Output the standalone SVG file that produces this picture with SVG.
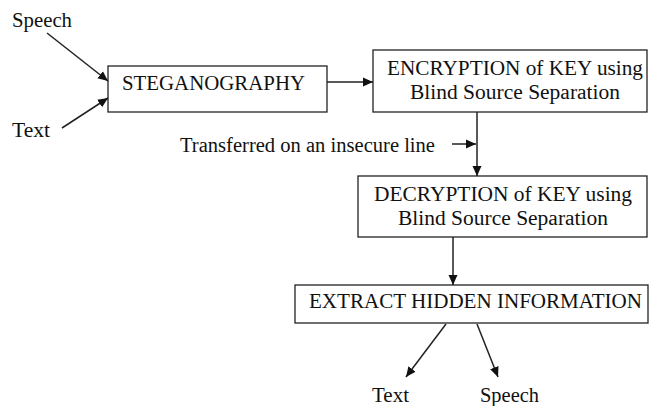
<svg xmlns="http://www.w3.org/2000/svg" width="649" height="406" viewBox="0 0 649 406">
<style>
text{font-family:"Liberation Serif","Times New Roman",serif;font-size:20.5px;fill:#111}
.box{fill:#fff;stroke:#222;stroke-width:1.3}
.ln{stroke:#222;stroke-width:1.5;fill:none;marker-end:url(#ah)}
</style>
<defs>
<marker id="ah" viewBox="0 0 10 10" refX="10" refY="5" markerWidth="10" markerHeight="10" markerUnits="userSpaceOnUse" orient="auto">
<path d="M0,0.5 L10,5 L0,9.5 Z" fill="#111"/>
</marker>
</defs>
<rect width="649" height="406" fill="#fff"/>
<g id="labels">
<text x="12" y="27" textLength="60" lengthAdjust="spacingAndGlyphs">Speech</text>
<text x="12" y="137" textLength="38" lengthAdjust="spacingAndGlyphs">Text</text>
<text x="180" y="152" textLength="255" lengthAdjust="spacingAndGlyphs">Transferred on an insecure line</text>
<text x="372" y="402" textLength="37" lengthAdjust="spacingAndGlyphs">Text</text>
<text x="480" y="402" textLength="59" lengthAdjust="spacingAndGlyphs">Speech</text>
</g>
<g id="steganography">
<rect class="box" x="108" y="66" width="219" height="46"/>
<text x="122" y="90" textLength="183" lengthAdjust="spacingAndGlyphs">STEGANOGRAPHY</text>
</g>
<g id="encryption">
<rect class="box" x="373" y="50" width="274" height="62"/>
<text x="387" y="75" textLength="256" lengthAdjust="spacingAndGlyphs">ENCRYPTION of KEY using</text>
<text x="410" y="99" textLength="210" lengthAdjust="spacingAndGlyphs">Blind Source Separation</text>
</g>
<g id="decryption">
<rect class="box" x="358" y="176" width="289" height="61"/>
<text x="374" y="201" textLength="258" lengthAdjust="spacingAndGlyphs">DECRYPTION of KEY using</text>
<text x="398" y="225" textLength="210" lengthAdjust="spacingAndGlyphs">Blind Source Separation</text>
</g>
<g id="extract">
<rect class="box" x="295" y="285" width="353" height="38"/>
<text x="309" y="308" textLength="333" lengthAdjust="spacingAndGlyphs">EXTRACT HIDDEN INFORMATION</text>
</g>
<g id="connectors">
<line class="ln" x1="47" y1="33" x2="108" y2="81"/>
<line class="ln" x1="62" y1="128" x2="108" y2="98"/>
<line class="ln" x1="327" y1="82" x2="373" y2="82"/>
<line class="ln" x1="477" y1="112" x2="477" y2="176"/>
<line class="ln" x1="452" y1="144" x2="476" y2="144"/>
<line class="ln" x1="453" y1="237" x2="453" y2="285"/>
<line class="ln" x1="446" y1="324" x2="406" y2="377"/>
<line class="ln" x1="477" y1="324" x2="498" y2="377"/>
</g>
</svg>
